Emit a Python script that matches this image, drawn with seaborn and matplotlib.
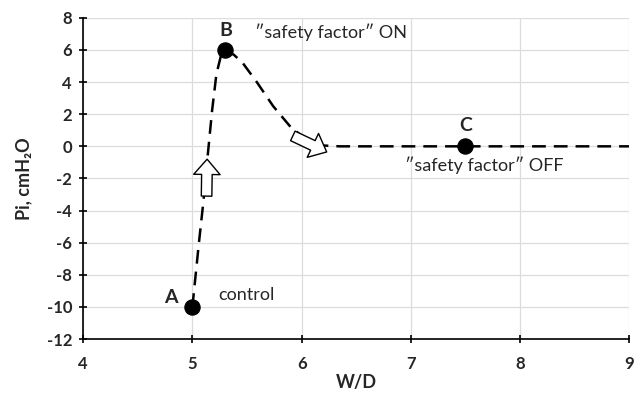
import matplotlib
matplotlib.use('Agg')
import matplotlib.pyplot as plt
import seaborn as sns
import pandas as pd

# curve (W/D, Pi)
wd = [5.0, 5.03, 5.06, 5.1, 5.14, 5.18, 5.22, 5.26, 5.3,
      5.38, 5.46, 5.59, 5.74, 5.9, 6.05, 6.2, 6.35, 7.5, 9.0]
pi = [-10.0, -8.0, -6.0, -3.5, -0.6, 2.2, 4.5, 5.6, 6.0,
      5.7, 5.2, 4.0, 2.5, 1.2, 0.4, 0.05, 0.0, 0.0, 0.0]

pt_names = ['A', 'B', 'C']
pt_wd = [5.0, 5.3, 7.5]
pt_pi = [-10.0, 6.0, 0.0]

curve = pd.DataFrame({'W/D': wd, 'Pi': pi})
points = pd.DataFrame({'W/D': pt_wd, 'Pi': pt_pi, 'name': pt_names})

sns.set_style('whitegrid')
plt.rcParams['font.family'] = ['Lato', 'DejaVu Sans']
plt.rcParams['axes.unicode_minus'] = False

fig, ax = plt.subplots(figsize=(6.4, 3.97), dpi=100)
fig.subplots_adjust(left=0.13, right=0.983, top=0.955, bottom=0.146)

sns.lineplot(data=curve, x='W/D', y='Pi', sort=False, color='black',
             lw=1.8, linestyle=(0, (5.5, 3.2)), ax=ax)
sns.scatterplot(data=points, x='W/D', y='Pi', color='black', s=120,
                edgecolor='black', zorder=5, ax=ax)

# block arrows
arr = dict(arrowstyle='simple,head_width=0.95,head_length=0.55,tail_width=0.38',
           fc='white', ec='black', lw=1.0, shrinkA=0, shrinkB=0,
           mutation_scale=20)
ax.annotate('', xy=(5.135, -0.8), xytext=(5.13, -3.1), arrowprops=arr, zorder=6)
ax.annotate('', xy=(6.23, -0.35), xytext=(5.92, 0.65), arrowprops=arr, zorder=6)

# labels
ax.text(5.31, 7.2, 'B', fontsize=14, fontweight='bold', ha='center', va='center')
ax.text(5.57, 7.1, '\u2033safety factor\u2033 ON', fontsize=13, va='center')
ax.text(7.5, 1.3, 'C', fontsize=14, fontweight='bold', ha='center', va='center')
ax.text(6.95, -1.15, '\u2033safety factor\u2033 OFF', fontsize=13, va='center')
ax.text(4.8, -9.4, 'A', fontsize=14, fontweight='bold', ha='center', va='center')
ax.text(5.24, -9.25, 'control', fontsize=13, va='center')

ax.set_xlim(4, 9)
ax.set_ylim(-12, 8)
ax.set_xticks(range(4, 10))
ax.set_yticks(range(-12, 10, 2))
ax.set_xlabel('W/D', fontsize=13, fontweight='bold', labelpad=2)
ax.set_ylabel('Pi, cmH\u2082O', fontsize=13, fontweight='bold', labelpad=10)

ax.grid(True, color='#dcdcdc', lw=0.9)
for s in ['top', 'right']:
    ax.spines[s].set_visible(False)
for s in ['left', 'bottom']:
    ax.spines[s].set_color('black')
    ax.spines[s].set_linewidth(1.2)
ax.tick_params(direction='inout', length=6, width=1.2, color='black',
               labelsize=12, left=True, bottom=True)
ax.tick_params(axis='x', pad=9)
ax.tick_params(axis='y', pad=5)
for lab in ax.get_xticklabels() + ax.get_yticklabels():
    lab.set_fontweight('bold')

plt.savefig('out.png', dpi=100)
